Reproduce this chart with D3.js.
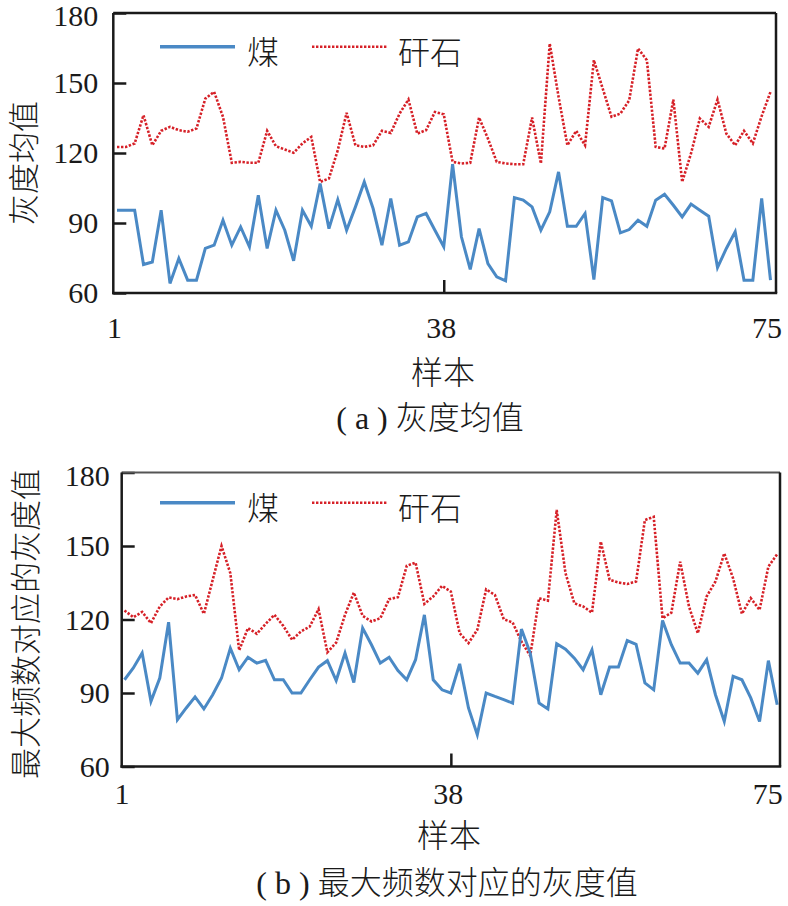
<!DOCTYPE html>
<html>
<head>
<meta charset="utf-8">
<script src="https://cdn.jsdelivr.net/npm/d3@7"></script>
<style>
  html, body { margin: 0; padding: 0; background: #fff; }
  svg { display: block; }
  .serif { font-family: "Liberation Serif", serif; }
  .cjk { font-family: "Noto Sans CJK SC", sans-serif; font-weight: 300; }
</style>
</head>
<body>
<svg id="chart" width="788" height="906"></svg>
<script>
// ---------------- data ----------------
const samples = d3.range(1, 76);            // sample index 1..75
const xTickValues = [1, 38, 75];
const yTickValues = [60, 90, 120, 150, 180];
const seriesNames = ["煤", "矸石"];
const xAxisTitle = "样本";
const yAxisTitles = ["灰度均值", "最大频数对应的灰度值"];
const panelLetters = ["( a ) ", "( b ) "];
const panelTitles = ["灰度均值", "最大频数对应的灰度值"];

// (a) mean gray value
const coalMeanA = [95.5, 95.5, 95.5, 72.2, 73.3, 95.5, 64.1, 74.8, 65.5, 65.5,
  79.1, 80.5, 91.2, 80.5, 88.3, 79.8, 101.9, 79.1, 95.5, 86.9,
  73.8, 95.5, 88.6, 106.9, 87.6, 100.0, 86.9, 96.9, 107.6, 96.2,
  80.5, 100.5, 80.5, 81.9, 92.6, 94.1, 86.9, 79.8, 115.2, 84.1,
  70.1, 87.6, 72.6, 66.9, 65.2, 100.9, 99.8, 96.9, 86.9, 94.8,
  111.9, 88.6, 88.6, 94.1, 65.8, 100.9, 99.5, 85.8, 87.2, 91.2,
  88.6, 99.8, 102.3, 97.6, 92.6, 98.1, 95.5, 92.9, 70.9, 79.1,
  86.2, 65.5, 65.5, 100.5, 65.5];
const gangueMeanA = [122.6, 122.6, 124.1, 136.2, 123.3, 129.5, 131.2, 129.8, 129.1, 130.5,
  143.3, 146.2, 135.5, 115.8, 116.2, 115.8, 115.8, 129.5, 122.9, 121.5,
  120.1, 124.1, 126.9, 107.6, 109.1, 121.2, 137.2, 123.3, 122.6, 123.3,
  129.5, 128.6, 136.9, 142.9, 128.3, 129.8, 137.6, 136.6, 116.2, 115.5,
  115.8, 135.2, 126.2, 116.2, 115.5, 115.2, 115.2, 135.2, 115.5, 166.9,
  144.1, 123.3, 129.5, 123.3, 159.8, 147.6, 135.5, 136.9, 142.6, 164.8,
  159.8, 122.6, 121.9, 142.9, 107.6, 119.8, 134.8, 131.2, 142.9, 128.3,
  123.3, 129.5, 124.1, 135.8, 146.2];

// (b) gray value of the maximum frequency
const coalModeB = [95.4, 100.2, 106.3, 86.6, 96.1, 118.9, 79.1, 83.9, 88.4, 83.5,
  89.3, 96.1, 108.3, 99.5, 104.6, 102.2, 103.3, 95.4, 95.4, 90.0,
  90.0, 95.4, 100.6, 103.2, 95.1, 106.3, 94.3, 116.5, 109.7, 102.2,
  104.6, 99.2, 95.4, 103.6, 121.9, 95.4, 91.3, 90.0, 101.9, 83.9,
  73.0, 90.0, 88.6, 87.3, 85.9, 116.1, 106.3, 85.9, 83.5, 110.1,
  107.9, 104.2, 99.5, 107.6, 89.3, 100.6, 100.6, 111.4, 109.9, 94.1,
  91.3, 119.6, 109.7, 102.2, 102.2, 98.1, 103.6, 89.3, 78.4, 96.8,
  95.4, 88.0, 78.4, 103.2, 85.2];
const gangueModeB = [123.7, 120.9, 123.1, 118.5, 125.3, 129.0, 128.3, 129.4, 130.0, 122.3,
  136.2, 150.0, 138.9, 107.4, 116.5, 114.2, 118.2, 121.9, 117.4, 111.7,
  115.1, 117.1, 124.2, 106.6, 110.6, 121.9, 131.0, 121.5, 119.2, 120.5,
  128.3, 129.1, 141.9, 143.2, 126.4, 129.4, 133.7, 131.4, 114.4, 110.4,
  115.8, 132.3, 130.0, 120.1, 118.8, 111.0, 105.2, 128.7, 127.7, 164.7,
  138.9, 126.6, 125.3, 122.8, 151.8, 136.2, 135.1, 134.5, 135.5, 160.6,
  161.9, 120.5, 122.8, 143.6, 125.3, 114.4, 129.4, 135.5, 147.0, 136.8,
  122.3, 128.7, 123.9, 141.6, 146.7];

// ---------------- styling / layout ----------------
const COAL = "#4a89c5";
const GANGUE = "#d62027";
const INK = "#1a1a1a";

const panels = [
  { coal: coalMeanA, gangue: gangueMeanA, yTitle: yAxisTitles[0], letter: panelLetters[0], title: panelTitles[0],
    left: 113.3, right: 776, top: 13, bottom: 293, x0: 117, x1: 770.5,
    yPad: 15, xPad: 24, yTitleX: 24, yTitleY: 163, xTitleX: 443, xTitleY: 373,
    titleX: 430, titleY: 418, legendY: 46.7, topStroke: INK, topWidth: 2.5, lastDx: -4 },
  { coal: coalModeB, gangue: gangueModeB, yTitle: yAxisTitles[1], letter: panelLetters[1], title: panelTitles[1],
    left: 121.7, right: 780, top: 472.5, bottom: 766.5, x0: 124.5, x1: 777.2,
    yPad: 12, xPad: 16, yTitleX: 26, yTitleY: 624, xTitleX: 449, xTitleY: 836,
    titleX: 447, titleY: 883, legendY: 502.7, topStroke: "#555", topWidth: 2, lastDx: -10 }
];

const svg = d3.select("#chart");

panels.forEach(p => {
  const g = svg.append("g");
  const x = d3.scaleLinear().domain([1, 75]).range([p.x0, p.x1]);
  const y = d3.scaleLinear().domain([60, 180]).range([p.bottom, p.top]);

  // series lines
  const line = d3.line().x((d, i) => x(samples[i])).y(d => y(d));
  g.append("path").datum(p.gangue)
    .attr("d", line).attr("fill", "none")
    .attr("stroke", GANGUE).attr("stroke-width", 2.6)
    .attr("stroke-dasharray", "2.4,1.6");
  g.append("path").datum(p.coal)
    .attr("d", line).attr("fill", "none")
    .attr("stroke", COAL).attr("stroke-width", 3)
    .attr("stroke-linejoin", "miter");

  // y axis (ticks inside)
  const yAxis = g.append("g").attr("transform", `translate(${p.left},0)`)
    .call(d3.axisLeft(y).tickValues(yTickValues).tickSizeInner(-13).tickSizeOuter(0).tickPadding(p.yPad));
  yAxis.attr("font-family", null).attr("font-size", null);
  yAxis.select(".domain").remove();
  yAxis.selectAll(".tick line").attr("stroke", INK).attr("stroke-width", 2.5);
  yAxis.selectAll(".tick text").attr("class", "serif").style("font-size", "30px").attr("fill", INK)
    .attr("dy", (d) => (d === 180 ? "0.42em" : "0.32em"));

  // x axis (ticks inside)
  const xAxis = g.append("g").attr("transform", `translate(0,${p.bottom})`)
    .call(d3.axisBottom(x).tickValues(xTickValues).tickSizeInner(-13).tickSizeOuter(0).tickPadding(p.xPad));
  xAxis.attr("font-family", null).attr("font-size", null);
  xAxis.select(".domain").remove();
  xAxis.selectAll(".tick line").attr("stroke", INK).attr("stroke-width", 2.5)
    .attr("display", d => (d === 38 ? null : "none"));
  xAxis.selectAll(".tick text").attr("class", "serif").style("font-size", "30px")
    .attr("fill", INK).attr("dx", d => (d === 75 ? p.lastDx : -3));

  // frame
  const frame = g.append("g").attr("fill", "none");
  frame.append("line").attr("x1", p.left).attr("x2", p.right).attr("y1", p.top).attr("y2", p.top)
    .attr("stroke", p.topStroke).attr("stroke-width", p.topWidth);
  frame.append("line").attr("x1", p.right).attr("x2", p.right).attr("y1", p.top).attr("y2", p.bottom)
    .attr("stroke", INK).attr("stroke-width", 2.5);
  frame.append("line").attr("x1", p.left).attr("x2", p.left).attr("y1", p.top).attr("y2", p.bottom + 1.2)
    .attr("stroke", INK).attr("stroke-width", 2.5);
  frame.append("line").attr("x1", p.left - 1.2).attr("x2", p.right + 1.2).attr("y1", p.bottom).attr("y2", p.bottom)
    .attr("stroke", INK).attr("stroke-width", 2.5);

  // legend
  const lg = g.append("g");
  lg.append("line").attr("x1", 160).attr("x2", 235).attr("y1", p.legendY).attr("y2", p.legendY)
    .attr("stroke", COAL).attr("stroke-width", 3.4);
  lg.append("text").attr("class", "cjk").attr("x", 247).attr("y", p.legendY + 6).attr("dy", "0.35em")
    .style("font-size", "32px").attr("fill", INK)
    .text(seriesNames[0]);
  lg.append("line").attr("x1", 312).attr("x2", 388).attr("y1", p.legendY).attr("y2", p.legendY)
    .attr("stroke", GANGUE).attr("stroke-width", 2.6).attr("stroke-dasharray", "2.4,1.6");
  lg.append("text").attr("class", "cjk").attr("x", 398).attr("y", p.legendY + 6).attr("dy", "0.35em")
    .style("font-size", "32px").attr("fill", INK)
    .text(seriesNames[1]);

  // axis titles
  g.append("text").attr("class", "cjk")
    .attr("transform", `translate(${p.yTitleX},${p.yTitleY}) rotate(-90)`)
    .attr("text-anchor", "middle").attr("dy", "0.35em")
    .style("font-size", "31px").attr("fill", INK)
    .text(p.yTitle);
  g.append("text").attr("class", "cjk").attr("x", p.xTitleX).attr("y", p.xTitleY).attr("dy", "0.35em")
    .attr("text-anchor", "middle")
    .style("font-size", "32px").attr("fill", INK)
    .text(xAxisTitle);
  const t = g.append("text").attr("x", p.titleX).attr("y", p.titleY).attr("dy", "0.35em")
    .attr("text-anchor", "middle").attr("fill", INK).style("font-size", "32px");
  t.append("tspan").attr("class", "serif").text(p.letter);
  t.append("tspan").attr("class", "cjk").text(p.title);
});
</script>
</body>
</html>
